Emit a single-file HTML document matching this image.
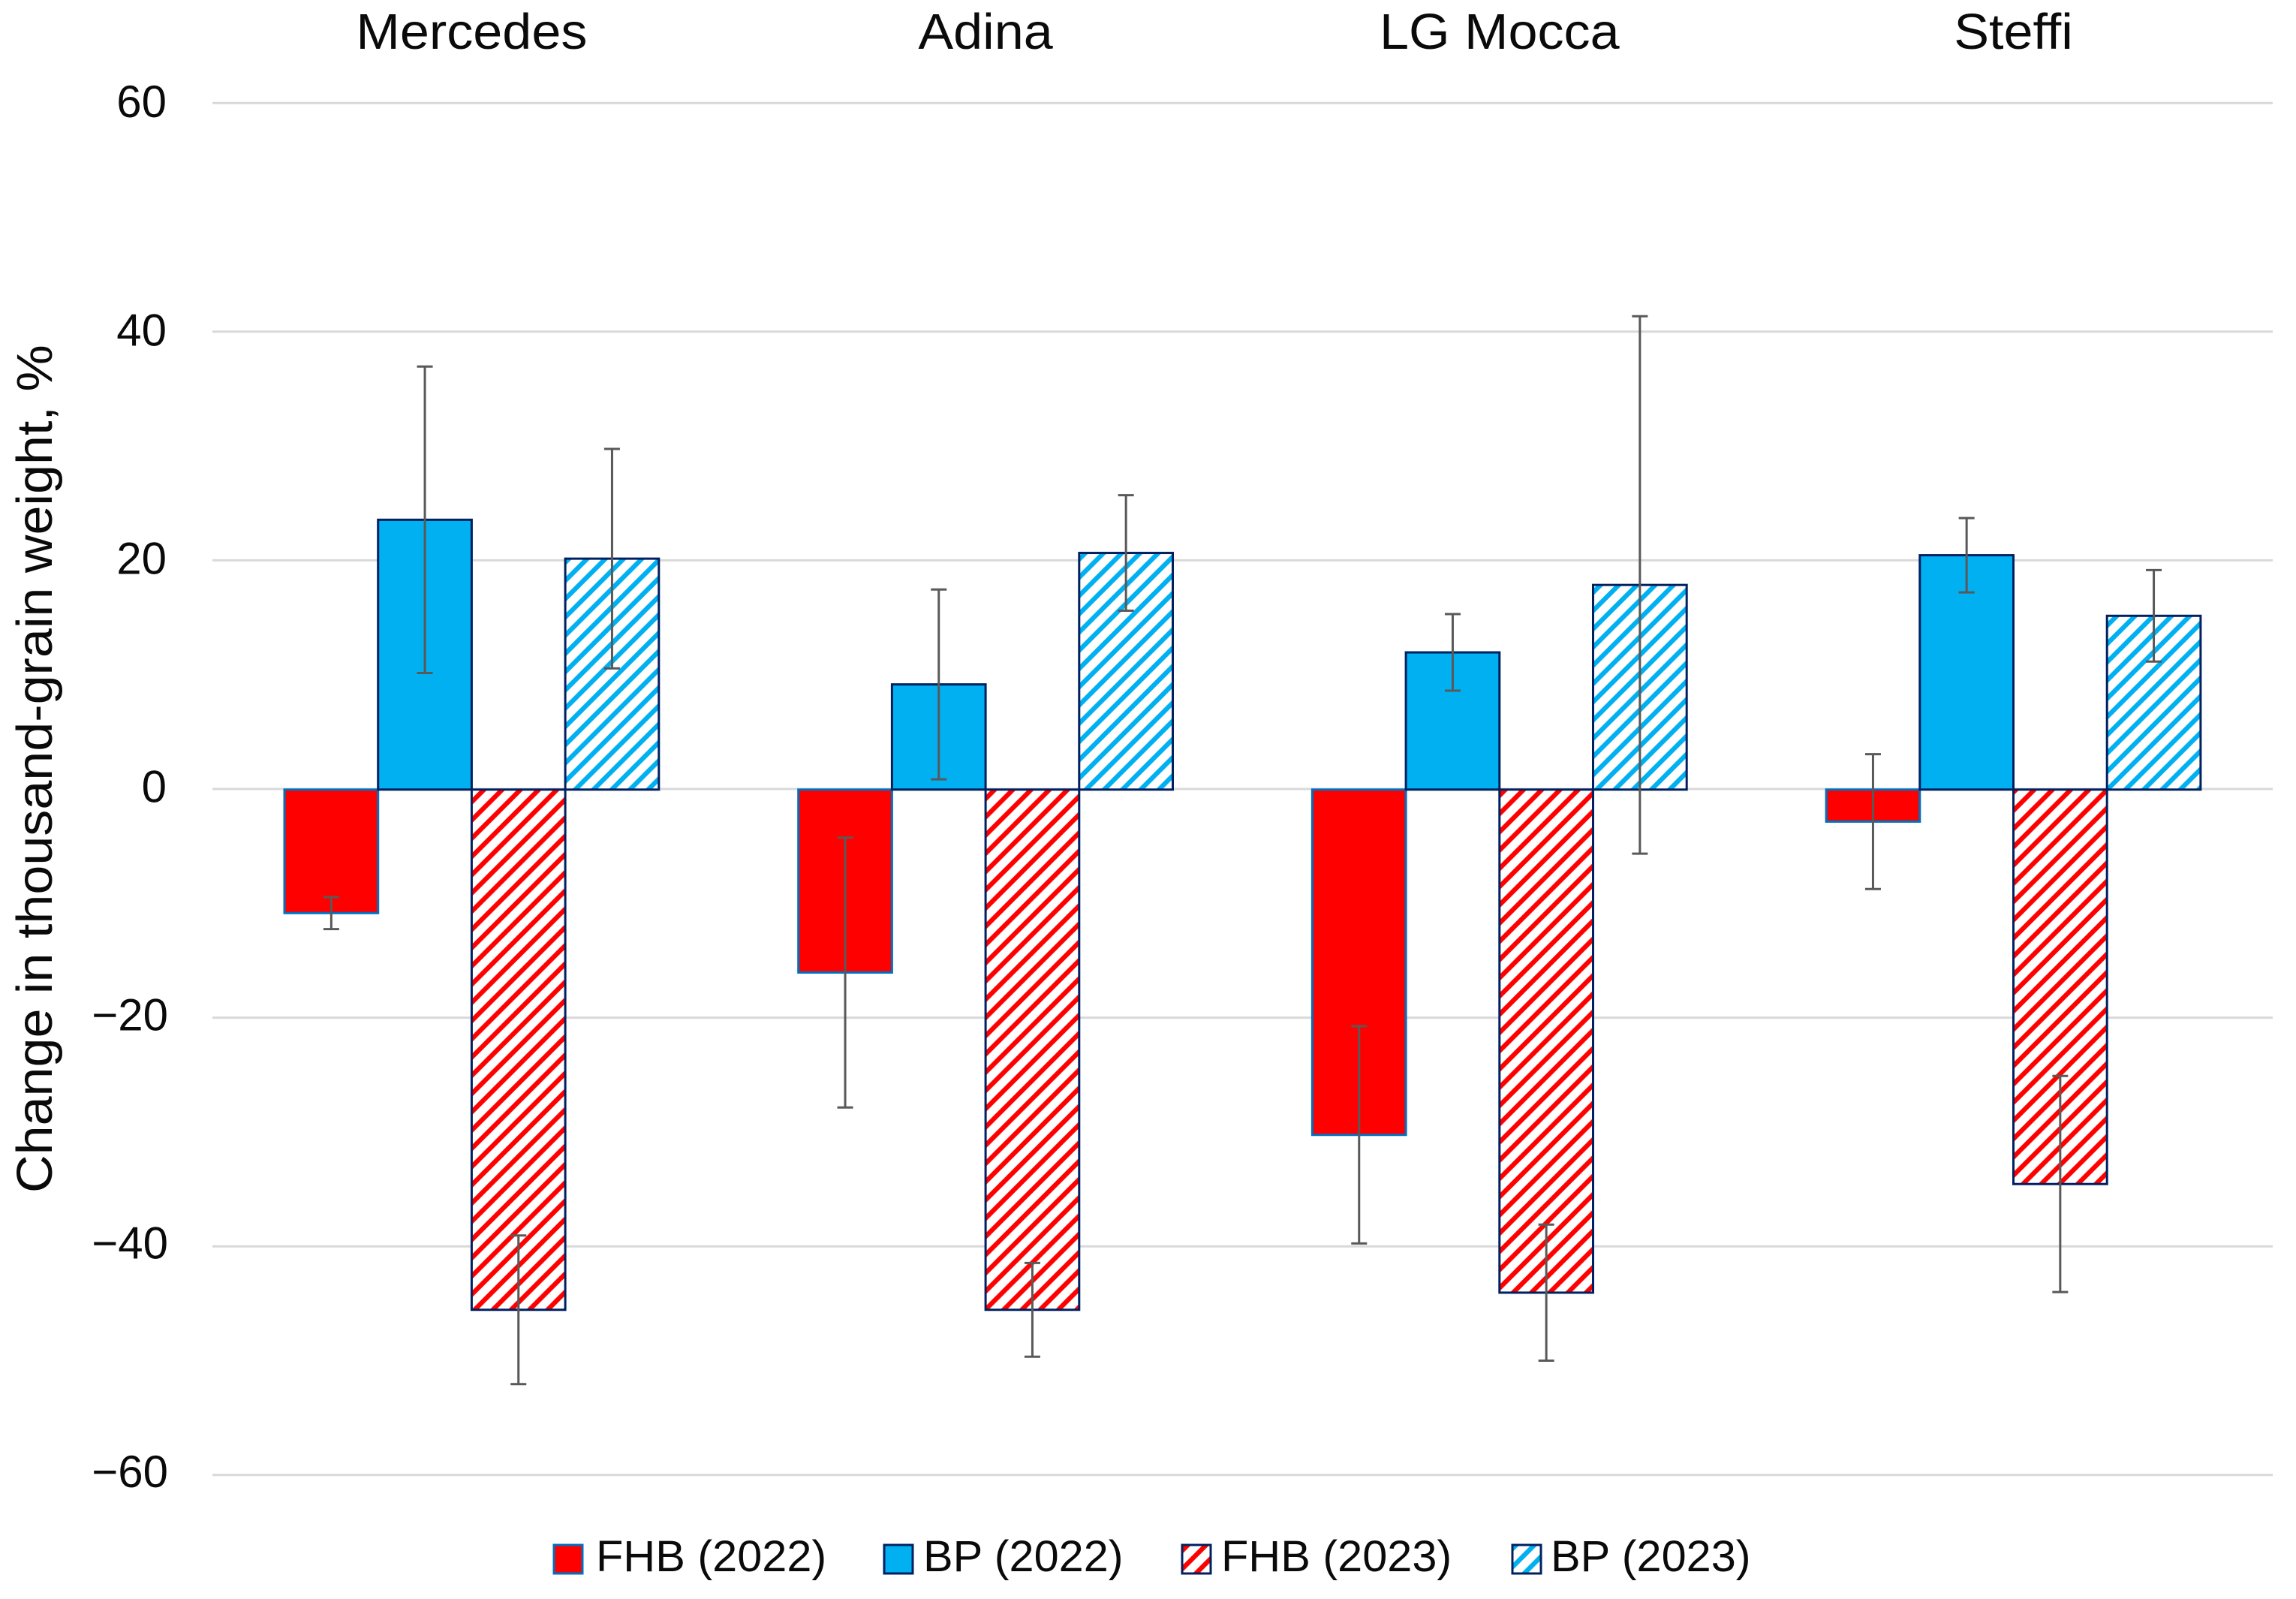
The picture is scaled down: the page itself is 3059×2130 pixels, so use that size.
<!DOCTYPE html>
<html lang="en">
<head>
<meta charset="utf-8">
<title>Change in thousand-grain weight</title>
<style>
html,body{margin:0;padding:0;background:#fff;}
svg{display:block;}
text{font-family:"Liberation Sans",sans-serif;fill:#0a0a0a;}
</style>
</head>
<body>
<svg id="chart" xmlns="http://www.w3.org/2000/svg" width="3059" height="2130" viewBox="0 0 3059 2130">
<defs>
<pattern id="hatch-red" patternUnits="userSpaceOnUse" width="24.3" height="24.3" patternTransform="translate(20,0)">
<rect width="24.3" height="24.3" fill="#fff"/>
<path d="M-6.1,6.1 L6.1,-6.1 M0,24.3 L24.3,0 M18.2,30.4 L30.4,18.2" stroke="#ff0000" stroke-width="6.3"/>
</pattern>
<pattern id="hatch-blue" patternUnits="userSpaceOnUse" width="24.3" height="24.3" patternTransform="translate(20,0)">
<rect width="24.3" height="24.3" fill="#fff"/>
<path d="M-6.1,6.1 L6.1,-6.1 M0,24.3 L24.3,0 M18.2,30.4 L30.4,18.2" stroke="#00b0f0" stroke-width="6.3"/>
</pattern>
</defs>
<rect width="3059" height="2130" fill="#fff"/>
<g id="grid"></g>
<g id="ticks"></g>
<g id="cats"></g>
<g id="bars"></g>
<g id="errs"></g>
<text transform="translate(69,1589) rotate(-90) scale(1.046,1)" font-size="67">Change in thousand-grain weight, %</text>
<g id="legend"></g>
</svg>
<script>
const categories = ["Mercedes", "Adina", "LG Mocca", "Steffi"];
const seriesNames = ["FHB (2022)", "BP (2022)", "FHB (2023)", "BP (2023)"];
const tickValues = [60, 40, 20, 0, -20, -40, -60];
const fhb2022 = [-10.8, -16.0, -30.2, -2.8];
const bp2022 = [23.6, 9.2, 12.0, 20.5];
const fhb2023 = [-45.5, -45.5, -44.0, -34.5];
const bp2023 = [20.2, 20.7, 17.9, 15.2];
const fhb2022Err = [1.4, 11.8, 9.5, 5.9];
const bp2022Err = [13.4, 8.3, 3.35, 3.25];
const fhb2023Err = [6.5, 4.1, 5.95, 9.45];
const bp2023Err = [9.6, 5.05, 23.5, 4.0];

const NS = "http://www.w3.org/2000/svg";
const yOf = v => 1051.8 - v * 15.23;
const GRID_SHIFT = -0.8;
const groupLeft = i => 379 + i * 684.7;
const BAR_W = 124.7;
const barFills = ["#ff0000", "#00b0f0", "url(#hatch-red)", "url(#hatch-blue)"];
const barStrokes = ["#0070c0", "#002060", "#002060", "#002060"];
const allValues = [fhb2022, bp2022, fhb2023, bp2023];
const allErrs = [fhb2022Err, bp2022Err, fhb2023Err, bp2023Err];
function make(tag, attrs, parent, txt) {
  const el = document.createElementNS(NS, tag);
  for (const k in attrs) el.setAttribute(k, attrs[k]);
  if (txt !== undefined) el.textContent = txt;
  parent.appendChild(el);
  return el;
}
const gridG = document.getElementById("grid");
const ticksG = document.getElementById("ticks");
const catsG = document.getElementById("cats");
const barsG = document.getElementById("bars");
const errsG = document.getElementById("errs");
const legendG = document.getElementById("legend");

tickValues.forEach(v => {
  const gy = yOf(v) + GRID_SHIFT;
  const line = make("line", {x1: 283, x2: 3028, y1: gy, y2: gy, stroke: "#d9d9d9", "stroke-width": 3}, gridG);
  
  
  const label = make("text", {x: v < 0 ? 224 : 222, y: gy + 19 - (60 - v) / 120 * 3, "text-anchor": "end", "font-size": 60}, ticksG, (v < 0 ? "\u2212" : "") + Math.abs(v));
  
  
});

categories.forEach((c, i) => {
  const cx = groupLeft(i) + 2 * BAR_W;
  const label = make("text", {transform: "translate(" + cx + ",65) scale(1.055,1)", "text-anchor": "middle", "font-size": 66.5}, catsG, c);
  
  
});

allValues.forEach((vals, s) => {
  vals.forEach((v, i) => {
    const x = groupLeft(i) + s * BAR_W;
    const top = Math.min(yOf(0), yOf(v));
    const rect = make("rect", {x: x, y: top, width: BAR_W, height: Math.abs(yOf(v) - yOf(0)), fill: barFills[s], stroke: barStrokes[s], "stroke-width": 3}, barsG);
    
    
    const cx = x + BAR_W / 2;
    const e = allErrs[s][i];
    const hi = yOf(v + e), lo = yOf(v - e);
    const path = make("path", {d: "M" + (cx - 10.5) + "," + hi + "H" + (cx + 10.5) + "M" + cx + "," + hi + "V" + lo + "M" + (cx - 10.5) + "," + lo + "H" + (cx + 10.5), stroke: "#595959", "stroke-width": 3, fill: "none"}, errsG);
    
    
  });
});

const legendSwatchX = [738, 1178, 1575, 2015];
const legendTextX = [794, 1230, 1627, 2066];
seriesNames.forEach((name, s) => {
  const swatch = make("rect", {x: legendSwatchX[s], y: 2058, width: 38, height: 38, fill: barFills[s], stroke: barStrokes[s], "stroke-width": 3}, legendG);
  
  
  const label = make("text", {transform: "translate(" + legendTextX[s] + ",2093) scale(1.025,1)", "font-size": 58}, legendG, name);
  
  
});
</script>
</body>
</html>
